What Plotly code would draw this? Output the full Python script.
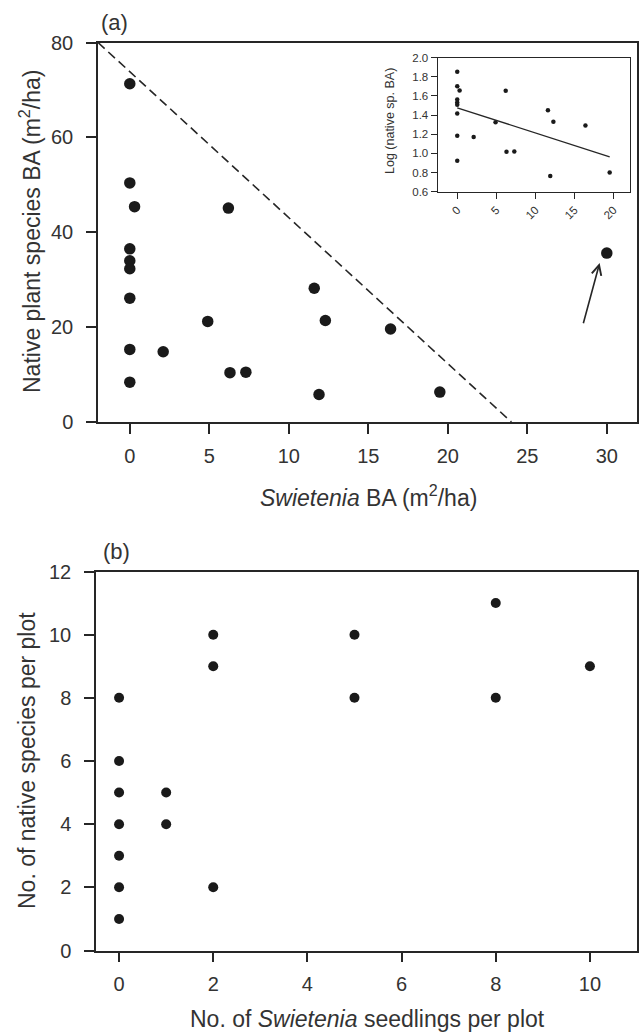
import numpy as np
import plotly.graph_objects as go

# ---------------- data ----------------
# Panel (a): Swietenia basal area vs native species basal area (m2/ha)
swietenia_ba = [0, 0, 0, 0, 0, 0, 0, 0, 0.3, 6.2, 2.1, 4.9, 6.3, 7.3, 11.6, 12.3, 11.9, 16.4, 19.5, 30.0]
native_ba = [71.3, 50.4, 36.5, 34.0, 32.3, 26.1, 15.3, 8.4, 45.4, 45.1, 14.8, 21.2, 10.4, 10.5, 28.2, 21.4, 5.8, 19.6, 6.3, 35.6]
# dashed reference line end points (x, y)
ref_line_x = [-2, 24]
ref_line_y = [80, 0]
# arrow pointing at the outlier (tail and head, data units)
arrow_tail = (28.5, 20.5)
arrow_head = (29.55, 33.5)

# Inset regression line (Swietenia BA, log native BA)
fit_line_x = [0, 19.5]
fit_line_y = [1.477, 0.965]

# Panel (b): Swietenia seedlings vs native species per plot
seedlings = [0, 0, 0, 0, 0, 0, 0, 1, 1, 2, 2, 2, 5, 5, 8, 8, 10]
native_species = [8, 6, 5, 4, 3, 2, 1, 5, 4, 10, 9, 2, 10, 8, 11, 8, 9]

# tick labels
a_xticks = [0, 5, 10, 15, 20, 25, 30]
a_yticks = [0, 20, 40, 60, 80]
inset_xticks = [0, 5, 10, 15, 20]
inset_yticks = [0.6, 0.8, 1.0, 1.2, 1.4, 1.6, 1.8, 2.0]
b_xticks = [0, 2, 4, 6, 8, 10]
b_yticks = [0, 2, 4, 6, 8, 10, 12]

# ---------------- derived (inset: log10 of native BA, outlier excluded) ----------------
sx = np.array(swietenia_ba[:-1])
sy = np.log10(np.array(native_ba[:-1]))

W, H = 640, 1033
INK = "#262626"
TXT = "#333333"
FONT = "Liberation Sans, Arial, Helvetica, sans-serif"


def px_dom(a, b, total):
    return [a / total, b / total]


def py_dom(top, bottom):
    return [1 - bottom / H, 1 - top / H]


fig = go.Figure()

# panel (a)
fig.add_trace(go.Scatter(x=ref_line_x, y=ref_line_y, mode="lines",
                         line=dict(color=INK, width=1.6, dash="9px,5px"),
                         xaxis="x", yaxis="y", hoverinfo="skip"))
fig.add_trace(go.Scatter(x=swietenia_ba, y=native_ba, mode="markers",
                         marker=dict(color="#1a1a1a", size=11.5),
                         xaxis="x", yaxis="y"))

# inset
fig.add_trace(go.Scatter(x=sx, y=sy, mode="markers",
                         marker=dict(color="#1a1a1a", size=4.5),
                         xaxis="x2", yaxis="y2"))
fig.add_trace(go.Scatter(x=fit_line_x, y=fit_line_y, mode="lines",
                         line=dict(color=INK, width=1.3),
                         xaxis="x2", yaxis="y2"))

# panel (b)
fig.add_trace(go.Scatter(x=seedlings, y=native_species, mode="markers",
                         marker=dict(color="#1a1a1a", size=10),
                         xaxis="x3", yaxis="y3"))

axis_common = dict(showgrid=False, zeroline=False, showline=True, linecolor=INK,
                   linewidth=1.5, mirror=True, ticks="outside", tickcolor=INK,
                   tickwidth=1.5, automargin=False,
                   tickfont=dict(family=FONT, size=20, color=TXT))

fig.update_layout(
    width=W, height=H,
    margin=dict(l=0, r=0, t=0, b=0, pad=0),
    paper_bgcolor="white", plot_bgcolor="rgba(0,0,0,0)",
    showlegend=False,
    font=dict(family=FONT, color=TXT),
    xaxis=dict(axis_common, domain=px_dom(98, 637, W), range=[-2.0, 31.9],
               tickvals=a_xticks, ticklen=10, ticklabelstandoff=5, anchor="y"),
    yaxis=dict(axis_common, domain=py_dom(42.5, 422), range=[0, 80],
               tickvals=a_yticks, ticklen=10, ticklabelstandoff=9, anchor="x"),
    xaxis2=dict(axis_common, domain=px_dom(437.7, 630, W), range=[-2.5, 22.1],
                tickvals=inset_xticks, ticklen=6, tickangle=-45, linewidth=1.3,
                tickwidth=1.3, tickfont=dict(family=FONT, size=11.5, color=TXT),
                anchor="y2"),
    yaxis2=dict(axis_common, domain=py_dom(57.7, 191.7), range=[0.6, 2.0],
                tickvals=inset_yticks, tickformat=".1f", ticklen=6, linewidth=1.3,
                tickwidth=1.3, tickfont=dict(family=FONT, size=11.5, color=TXT),
                anchor="x2"),
    xaxis3=dict(axis_common, domain=px_dom(96, 637, W), range=[-0.49, 11.0],
                tickvals=b_xticks, ticklen=10, ticklabelstandoff=5, anchor="y3"),
    yaxis3=dict(axis_common, domain=py_dom(571.5, 950.5), range=[0, 12],
                tickvals=b_yticks, ticklen=10, ticklabelstandoff=9, anchor="x3"),
)

title_font = dict(family=FONT, size=23, color=TXT)
ann = [
    dict(text="(a)", x=114 / W, y=1 - 23 / H, xref="paper", yref="paper",
         showarrow=False, font=dict(family=FONT, size=22, color=TXT),
         xanchor="center", yanchor="middle"),
    dict(text="(b)", x=116 / W, y=1 - 551 / H, xref="paper", yref="paper",
         showarrow=False, font=dict(family=FONT, size=22, color=TXT),
         xanchor="center", yanchor="middle"),
    dict(text="<i>Swietenia</i> BA (m<sup>2</sup>/ha)", x=368 / W, y=1 - 496 / H,
         xref="paper", yref="paper", showarrow=False, font=title_font,
         xanchor="center", yanchor="middle"),
    dict(text="Native plant species BA (m<sup>2</sup>/ha)", x=30 / W, y=1 - 232 / H,
         xref="paper", yref="paper", showarrow=False, font=title_font, textangle=-90,
         xanchor="center", yanchor="middle"),
    dict(text="No. of <i>Swietenia</i> seedlings per plot", x=367 / W, y=1 - 1019 / H,
         xref="paper", yref="paper", showarrow=False, font=title_font,
         xanchor="center", yanchor="middle"),
    dict(text="No. of native species per plot", x=27 / W, y=1 - 761 / H,
         xref="paper", yref="paper", showarrow=False, font=title_font, textangle=-90,
         xanchor="center", yanchor="middle"),
    dict(text="Log (native sp. BA)", x=390 / W, y=1 - 121 / H,
         xref="paper", yref="paper", showarrow=False,
         font=dict(family=FONT, size=12.5, color=TXT), textangle=-90,
         xanchor="center", yanchor="middle"),
    dict(x=arrow_head[0], y=arrow_head[1], ax=arrow_tail[0], ay=arrow_tail[1],
         xref="x", yref="y", axref="x", ayref="y", text="", showarrow=True,
         arrowhead=5, arrowsize=1.2, arrowwidth=1.6, arrowcolor=INK),
]
fig.update_layout(annotations=ann)

fig.write_html("out.html",
               config={"displayModeBar": False},
               post_script="document.body.style.margin='0';document.body.style.overflow='hidden';")
